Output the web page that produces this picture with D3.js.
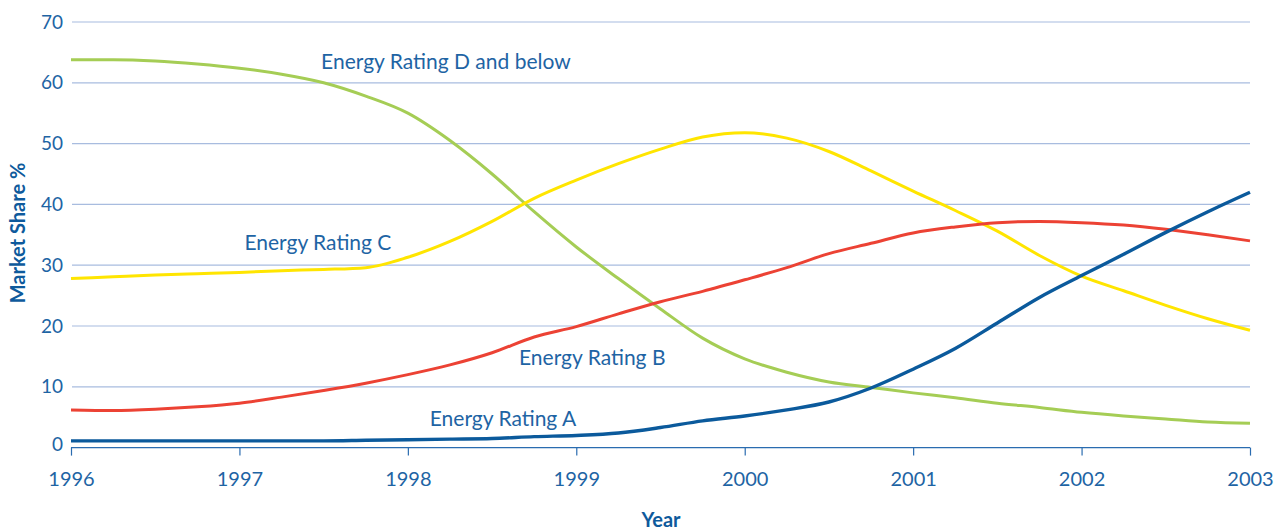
<!DOCTYPE html>
<html>
<head>
<meta charset="utf-8">
<script src="https://cdn.jsdelivr.net/npm/d3@7/dist/d3.min.js"></script>
<style>
  html, body { margin: 0; padding: 0; background: #ffffff; }
  svg { display: block; font-family: Lato, "Open Sans", sans-serif; }
</style>
</head>
<body>
<svg id="chart" width="1276" height="530"></svg>
<script>
// Quarterly market share (%) by energy rating, 1996–2003
const periods = [
  1996, 1996.25, 1996.5, 1996.75, 1997, 1997.25, 1997.5, 1997.75,
  1998, 1998.25, 1998.5, 1998.75, 1999, 1999.25, 1999.5, 1999.75,
  2000, 2000.25, 2000.5, 2000.75, 2001, 2001.25, 2001.5, 2001.75,
  2002, 2002.25, 2002.5, 2002.75, 2003
];
const ratingD = [
  63.8, 63.8, 63.6, 63.1, 62.4, 61.4, 60.0, 57.8,
  55.0, 50.5, 45.0, 38.8, 33.0, 27.8, 22.8, 18.0,
  14.6, 12.4, 10.8, 9.9, 9.0, 8.2, 7.3, 6.6,
  5.8, 5.2, 4.7, 4.2, 4.0
];
const ratingC = [
  27.8, 28.1, 28.4, 28.6, 28.8, 29.1, 29.3, 29.6,
  31.3, 33.9, 37.2, 41.0, 44.0, 46.7, 49.1, 51.1,
  51.8, 50.9, 48.7, 45.5, 42.2, 39.0, 35.6, 31.6,
  28.2, 25.8, 23.4, 21.2, 19.3
];
const ratingB = [
  6.2, 6.1, 6.3, 6.7, 7.3, 8.3, 9.4, 10.6,
  12.0, 13.6, 15.6, 18.2, 19.9, 22.0, 24.0, 25.7,
  27.6, 29.6, 31.9, 33.6, 35.3, 36.3, 37.0, 37.2,
  37.0, 36.6, 35.9, 35.0, 34.0
];
const ratingA = [
  1.1, 1.1, 1.1, 1.1, 1.1, 1.1, 1.1, 1.2,
  1.3, 1.4, 1.5, 1.8, 2.0, 2.4, 3.3, 4.4,
  5.2, 6.2, 7.5, 9.8, 12.9, 16.3, 20.5, 24.7,
  28.3, 31.8, 35.4, 38.8, 42.0
];
const yearTicks = [1996, 1997, 1998, 1999, 2000, 2001, 2002, 2003];
const shareTicks = [0, 10, 20, 30, 40, 50, 60, 70];

const seriesNames = ["Energy Rating D and below", "Energy Rating C", "Energy Rating B", "Energy Rating A"];
const seriesValues = [ratingD, ratingC, ratingB, ratingA];
const seriesColors = ["#a5cd55", "#ffe500", "#ec4234", "#0b5a9c"];
// label anchor points in data space (year, share)
const labelYears = [1997.485, 1997.03, 1998.66, 1998.13];
const labelShares = [62.2, 32.5, 13.6, 3.5];

const textColor = "#1e64a4";
const gridColor = "#a8bcdf";

const svg = d3.select("#chart");
const plotLeft = 71, plotRight = 1250, plotTop = 22, plotBottom = 447.6;

const x = d3.scaleLinear().domain([1996, 2003]).range([plotLeft, plotRight]);
const y = d3.scaleLinear().domain([0, 70]).range([plotBottom, plotTop]);

// horizontal gridlines
svg.append("g")
  .selectAll("line")
  .data(shareTicks.filter(d => d > 0))
  .join("line")
  .attr("x1", plotLeft + 1).attr("x2", plotRight)
  .attr("y1", d => y(d)).attr("y2", d => y(d))
  .attr("stroke", gridColor).attr("stroke-width", 1.2);

// y axis labels
svg.append("g")
  .selectAll("text")
  .data(shareTicks)
  .join("text")
  .attr("x", 63)
  .attr("y", d => y(d) - (d === 0 ? 3 : 0))
  .attr("dy", "0.35em")
  .attr("text-anchor", "end")
  .attr("fill", textColor)
  .attr("font-size", 19)
  .text(d => d);

// x axis
const xAxis = d3.axisBottom(x)
  .tickValues(yearTicks)
  .tickFormat(d3.format("d"))
  .tickSize(8)
  .tickPadding(16);
const gx = svg.append("g")
  .attr("transform", `translate(0,${plotBottom})`)
  .call(xAxis);
gx.select(".domain").attr("stroke", "#2a6cb0").attr("stroke-width", 1.4)
  .attr("d", `M${plotLeft},0H${plotRight}`);
gx.selectAll(".tick line").attr("stroke", "#2a6cb0").attr("stroke-width", 1.2);
gx.selectAll(".tick text")
  .attr("fill", textColor)
  .attr("font-size", 20)
  .attr("font-family", "Lato, 'Open Sans', sans-serif");

// series lines
const line = d3.line()
  .x((d, i) => x(periods[i]))
  .y(d => y(d))
  .curve(d3.curveMonotoneX);

svg.append("g")
  .selectAll("path")
  .data(seriesValues)
  .join("path")
  .attr("d", d => line(d))
  .attr("fill", "none")
  .attr("stroke", (d, i) => seriesColors[i])
  .attr("stroke-width", (d, i) => i === 3 ? 3.4 : 3)
  .attr("stroke-linejoin", "round");

// series labels
svg.append("g")
  .selectAll("text")
  .data(seriesNames)
  .join("text")
  .attr("x", (d, i) => x(labelYears[i]))
  .attr("y", (d, i) => y(labelShares[i]))
  .attr("fill", textColor)
  .attr("font-size", 21)
  .text(d => d);

// axis titles
svg.append("text")
  .attr("transform", "translate(25,233) rotate(-90)")
  .attr("text-anchor", "middle")
  .attr("fill", "#0e5a9c")
  .attr("font-size", 20)
  .attr("font-weight", "bold")
  .text("Market Share %");

svg.append("text")
  .attr("x", 661)
  .attr("y", 527)
  .attr("text-anchor", "middle")
  .attr("fill", "#0e5a9c")
  .attr("font-size", 20)
  .attr("font-weight", "bold")
  .text("Year");
</script>
</body>
</html>
